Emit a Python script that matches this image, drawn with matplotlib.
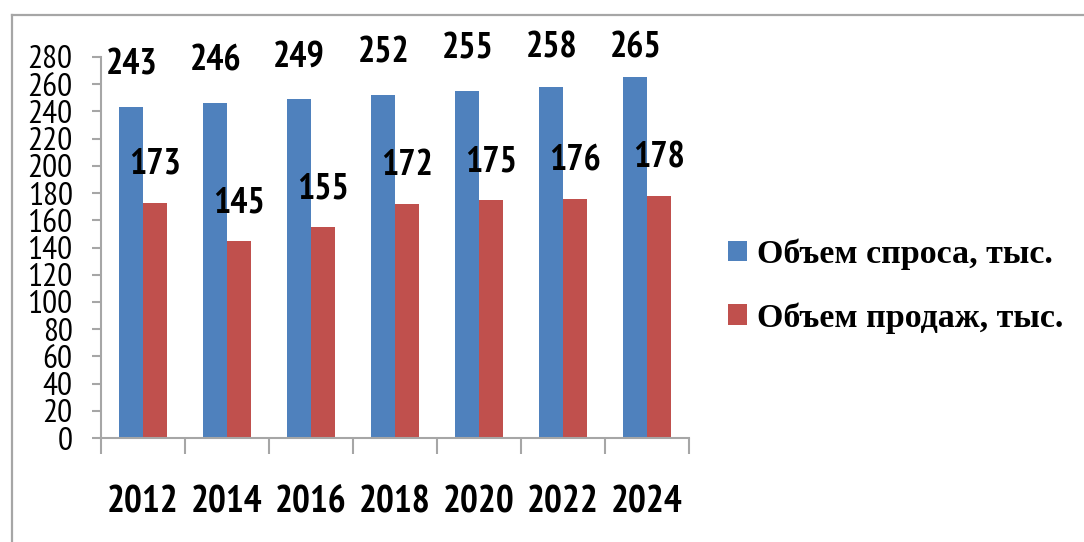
import matplotlib
matplotlib.use("Agg")
import matplotlib.pyplot as plt
from matplotlib.lines import Line2D
import numpy as np

# данные
years = ["2012", "2014", "2016", "2018", "2020", "2022", "2024"]
demand = [243, 246, 249, 252, 255, 258, 265]
sales = [173, 145, 155, 172, 175, 176, 178]
demand_name = "Объем спроса, тыс."
sales_name = "Объем продаж, тыс."

BLUE = "#4f81bd"
RED = "#c0504d"
GRAY = "#a6a6a6"
NARROW = ["PT Sans Narrow", "Liberation Sans Narrow", "Carlito", "DejaVu Sans"]
SERIF = ["Liberation Serif", "DejaVu Serif"]

W, H = 1084, 542
fig = plt.figure(figsize=(W / 100, H / 100), dpi=100)

# рамка области диаграммы (левый и верхний край видны)
fig.add_artist(Line2D([12 / W, 12 / W], [0, 1 - 15 / H], color=GRAY, lw=1.6))
fig.add_artist(Line2D([12 / W, 1], [1 - 15 / H, 1 - 15 / H], color=GRAY, lw=1.6))

ax = fig.add_axes([101 / W, 1 - 438 / H, 588 / W, 381 / H])

x = np.arange(len(years))
bw = 0.28
ax.bar(x - bw / 2, demand, bw, color=BLUE, label=demand_name)
ax.bar(x + bw / 2, sales, bw, color=RED, label=sales_name)

# подписи данных
for xi, v in zip(x, demand):
    ax.text(xi - bw / 2, min(v + 31, 286.5), str(v), ha="center", va="center",
            fontsize=26, fontweight="bold", family=NARROW, clip_on=False)
for xi, v in zip(x, sales):
    ax.text(xi + bw / 2, v + 28, str(v), ha="center", va="center",
            fontsize=26, fontweight="bold", family=NARROW)

ax.set_ylim(0, 280)
ax.set_yticks(range(0, 281, 20))
ax.set_xlim(-0.5, len(years) - 0.5)
ax.set_xticks(np.arange(-0.5, len(years), 1.0))
ax.set_xticklabels([])
ax.set_xticks(x, minor=True)
ax.set_xticklabels(years, minor=True, fontsize=27, fontweight="bold", family=NARROW)
ax.tick_params(axis="x", which="major", length=11.5, width=1.5, color=GRAY, direction="out")
ax.tick_params(axis="x", which="minor", length=0, pad=34)
ax.tick_params(axis="y", length=6.5, width=1.5, color=GRAY, pad=14, labelsize=24)
for lbl in ax.get_yticklabels():
    lbl.set_family(NARROW)

for s in ["top", "right"]:
    ax.spines[s].set_visible(False)
for s in ["left", "bottom"]:
    ax.spines[s].set_color(GRAY)
    ax.spines[s].set_linewidth(1.5)

ax.legend(loc="center left", bbox_to_anchor=(728 / W, 1 - 286 / H),
          bbox_transform=fig.transFigure, frameon=False,
          prop={"family": SERIF, "weight": "bold", "size": 24.5},
          handlelength=0.55, handleheight=0.55, handletextpad=0.3,
          labelspacing=0.95, borderpad=0, borderaxespad=0)

fig.savefig("out.png", dpi=100)
